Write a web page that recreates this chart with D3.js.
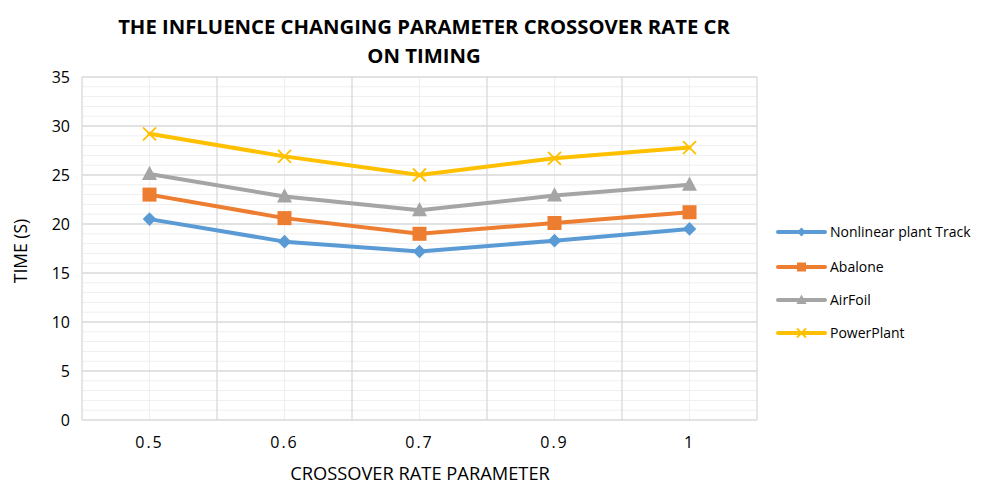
<!DOCTYPE html>
<html>
<head>
<meta charset="utf-8">
<script src="https://cdn.jsdelivr.net/npm/d3@7"></script>
<style>
  html, body { margin: 0; padding: 0; background: #fff; }
  svg { display: block; font-family: "Open Sans", "Liberation Sans", sans-serif; }
</style>
</head>
<body>
<svg id="chart" width="986" height="484"></svg>
<script>
// Crossover rate settings on the x axis
const categories = ["0.5", "0.6", "0.7", "0.9", "1"];

// Run time (s) for each dataset
const nonlinearPlantTrack = [20.5, 18.2, 17.2, 18.3, 19.5];
const abalone             = [23.0, 20.6, 19.0, 20.1, 21.2];
const airFoil             = [25.1, 22.8, 21.4, 22.9, 24.0];
const powerPlant          = [29.2, 26.9, 25.0, 26.7, 27.8];

const seriesNames = ["Nonlinear plant Track", "Abalone", "AirFoil", "PowerPlant"];
const yTicks = [0, 5, 10, 15, 20, 25, 30, 35];

const series = [
  { name: seriesNames[0], values: nonlinearPlantTrack, color: "#5B9BD5", marker: "diamond" },
  { name: seriesNames[1], values: abalone,             color: "#ED7D31", marker: "square" },
  { name: seriesNames[2], values: airFoil,             color: "#A5A5A5", marker: "triangle" },
  { name: seriesNames[3], values: powerPlant,          color: "#FFC000", marker: "cross" }
];

const svg = d3.select("#chart");
const plot = { left: 82, right: 757, top: 77, bottom: 420 };

const x = d3.scaleBand().domain(categories).range([plot.left, plot.right]);
const y = d3.scaleLinear().domain([0, 35]).range([plot.bottom, plot.top]);
const cx = c => x(c) + x.bandwidth() / 2;

// Minor horizontal grid (every 1 s)
svg.append("g").selectAll("line")
  .data(d3.range(1, 35).filter(v => v % 5 !== 0))
  .join("line")
  .attr("x1", plot.left).attr("x2", plot.right)
  .attr("y1", d => y(d)).attr("y2", d => y(d))
  .attr("stroke", "#efefef").attr("stroke-width", 1);

// Minor vertical grid at category centres
svg.append("g").selectAll("line")
  .data(categories)
  .join("line")
  .attr("x1", d => cx(d)).attr("x2", d => cx(d))
  .attr("y1", plot.top).attr("y2", plot.bottom)
  .attr("stroke", "#efefef").attr("stroke-width", 1);

// Major horizontal grid
svg.append("g").selectAll("line")
  .data(yTicks)
  .join("line")
  .attr("x1", plot.left).attr("x2", plot.right)
  .attr("y1", d => y(d)).attr("y2", d => y(d))
  .attr("stroke", "#d9d9d9").attr("stroke-width", 1.3);

// Major vertical grid at category boundaries
const bounds = categories.map(c => x(c)).concat([plot.right]);
svg.append("g").selectAll("line")
  .data(bounds)
  .join("line")
  .attr("x1", d => d).attr("x2", d => d)
  .attr("y1", plot.top).attr("y2", plot.bottom)
  .attr("stroke", "#d9d9d9").attr("stroke-width", 1.3);

// Y axis tick labels
const yAxis = d3.axisLeft(y).tickValues(yTicks).tickSize(0).tickPadding(12);
svg.append("g")
  .attr("transform", `translate(${plot.left},0)`)
  .call(yAxis)
  .call(g => g.select(".domain").remove())
  .call(g => g.selectAll("text")
    .attr("font-family", "Open Sans, sans-serif")
    .attr("font-size", 16).attr("fill", "#000"));

// X axis tick labels
const xAxis = d3.axisBottom(x).tickSize(0).tickPadding(17);
svg.append("g")
  .attr("transform", `translate(0,${plot.bottom})`)
  .call(xAxis)
  .call(g => g.select(".domain").remove())
  .call(g => g.selectAll("text")
    .attr("font-family", "Open Sans, sans-serif")
    .attr("font-size", 16).attr("fill", "#000")
    .attr("letter-spacing", "2px"));

// Lines
const line = d3.line().x((d, i) => cx(categories[i])).y(d => y(d));
svg.append("g").selectAll("path")
  .data(series)
  .join("path")
  .attr("d", d => line(d.values))
  .attr("fill", "none")
  .attr("stroke", d => d.color)
  .attr("stroke-width", 4)
  .attr("stroke-linejoin", "round")
  .attr("stroke-linecap", "round");

// Marker drawing
function drawMarker(g, type, color, px, py, s) {
  if (type === "diamond") {
    g.append("path")
      .attr("d", `M${px},${py - s}L${px + s},${py}L${px},${py + s}L${px - s},${py}Z`)
      .attr("fill", color);
  } else if (type === "square") {
    g.append("rect")
      .attr("x", px - s).attr("y", py - s)
      .attr("width", 2 * s).attr("height", 2 * s)
      .attr("fill", color);
  } else if (type === "triangle") {
    g.append("path")
      .attr("d", `M${px},${py - s * 1.1}L${px + s},${py + s * 0.8}L${px - s},${py + s * 0.8}Z`)
      .attr("fill", color);
  } else if (type === "cross") {
    g.append("path")
      .attr("d", `M${px - s},${py - s}L${px + s},${py + s}M${px - s},${py + s}L${px + s},${py - s}`)
      .attr("stroke", color).attr("stroke-width", 1.8).attr("fill", "none");
  }
}

const markerSize = { diamond: 6.8, square: 7, triangle: 7.5, cross: 6.5 };
const markers = svg.append("g");
series.forEach(s => {
  s.values.forEach((v, i) => {
    drawMarker(markers, s.marker, s.color, cx(categories[i]), y(v), markerSize[s.marker]);
  });
});

// Title
const title = svg.append("text")
  .attr("text-anchor", "middle")
  .attr("font-family", "Open Sans, sans-serif")
  .attr("font-weight", "bold")
  .attr("font-size", 20.3)
  .attr("fill", "#000");
title.append("tspan").attr("x", 424).attr("y", 34)
  .text("THE INFLUENCE CHANGING PARAMETER CROSSOVER RATE CR");
title.append("tspan").attr("x", 424).attr("y", 63)
  .text("ON TIMING");

// Axis titles
svg.append("text")
  .attr("x", 420).attr("y", 480)
  .attr("text-anchor", "middle")
  .attr("font-size", 18.3).attr("fill", "#000")
  .text("CROSSOVER RATE PARAMETER");

svg.append("text")
  .attr("transform", "translate(27,251) rotate(-90)")
  .attr("text-anchor", "middle")
  .attr("font-size", 17.5).attr("fill", "#000")
  .text("TIME (S)");

// Legend
const legend = svg.append("g");
const legendY = [232, 267, 300, 333];
series.forEach((s, i) => {
  const ly = legendY[i];
  legend.append("line")
    .attr("x1", 778).attr("x2", 825)
    .attr("y1", ly).attr("y2", ly)
    .attr("stroke", s.color).attr("stroke-width", 4)
    .attr("stroke-linecap", "round");
  drawMarker(legend, s.marker, s.color, 801.5, ly, { diamond: 4.5, square: 4.5, triangle: 5, cross: 4.5 }[s.marker]);
  legend.append("text")
    .attr("x", 830).attr("y", ly + 5)
    .attr("font-size", 14).attr("fill", "#000")
    .text(s.name);
});
</script>
</body>
</html>
